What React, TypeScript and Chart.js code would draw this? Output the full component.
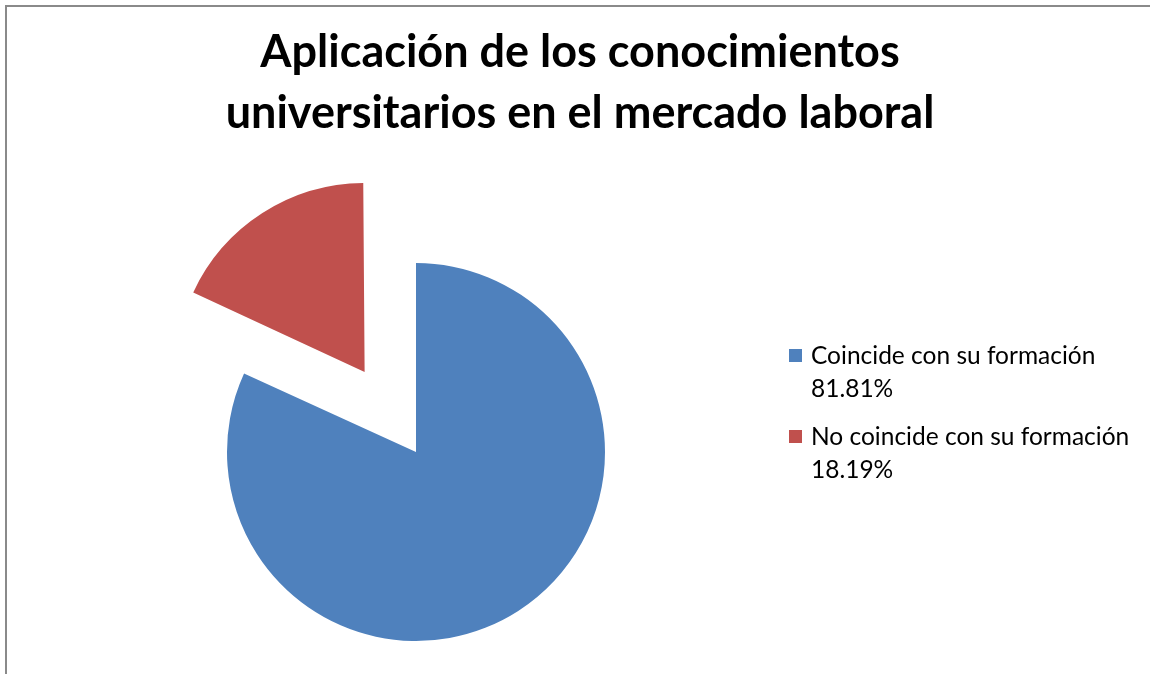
import React, { useEffect, useRef } from "react";
import { Chart, registerables } from "chart.js";

Chart.register(...registerables);

const titleLines = ["Aplicación de los conocimientos", "universitarios en el mercado laboral"];
const categories = ["Coincide con su formación", "No coincide con su formación"];
const values = [81.81, 18.19];
const valueLabels = ["81.81%", "18.19%"];
const colors = ["#4F81BD", "#C0504D"];
const explodePx = [0, 95];

const PIE_RADIUS = 189;

// keep exploded slice at the same radius as the rest (Chart.js enlarges offset arcs)
const keepRadiusPlugin = {
  id: "keepRadius",
  beforeDatasetsDraw(chart: any) {
    const meta = chart.getDatasetMeta(0);
    meta.data.forEach((arc: any) => {
      const off = (arc.options.offset || 0) / 4;
      const circ = arc.endAngle - arc.startAngle;
      const fix = 1 - Math.sin(Math.min(Math.PI, circ));
      arc.outerRadius = PIE_RADIUS - off * fix;
    });
  },
};

export default function App() {
  const ref = useRef<HTMLCanvasElement | null>(null);

  useEffect(() => {
    if (!ref.current) return;
    const chart = new Chart(ref.current, {
      type: "pie",
      data: {
        labels: categories,
        datasets: [
          {
            data: values,
            backgroundColor: colors,
            borderWidth: 0,
            offset: explodePx.map((p) => p * 4),
          },
        ],
      },
      options: {
        responsive: false,
        animation: false,
        radius: PIE_RADIUS,
        layout: { padding: { left: 0, right: 318, top: 230, bottom: 0 } },
        plugins: {
          legend: { display: false },
          title: { display: false },
          tooltip: { enabled: false },
        },
        events: [],
      },
      plugins: [keepRadiusPlugin],
    });
    return () => chart.destroy();
  }, []);

  return (
    <div
      style={{
        position: "absolute",
        left: 0,
        top: 0,
        width: 1150,
        height: 674,
        overflow: "hidden",
        background: "#fff",
        fontFamily: "Lato, 'Noto Sans', sans-serif",
      }}
    >
      <div
        style={{
          position: "absolute",
          left: 5,
          top: 5,
          width: 1200,
          height: 700,
          borderTop: "2px solid #8a8a8a",
          borderLeft: "2px solid #8a8a8a",
        }}
      />
      <canvas
        ref={ref}
        width={1150}
        height={674}
        style={{ position: "absolute", left: 0, top: 0, width: 1150, height: 674 }}
      />
      <div
        style={{
          position: "absolute",
          left: 5,
          top: 20,
          width: 1150,
          textAlign: "center",
          fontWeight: 700,
          fontSize: 45,
          lineHeight: "61px",
          color: "#000",
        }}
      >
        {titleLines.map((t, i) => (
          <div key={i} style={{ whiteSpace: "nowrap" }}>{t}</div>
        ))}
      </div>
      {categories.map((c, i) => (
        <div
          key={c}
          style={{
            position: "absolute",
            left: 789,
            top: 338 + i * 81,
            fontSize: 24.5,
            lineHeight: "33px",
            color: "#000",
          }}
        >
          <div
            style={{
              position: "absolute",
              left: 0,
              top: 11,
              width: 13,
              height: 13,
              background: colors[i],
            }}
          />
          <div style={{ marginLeft: 22, whiteSpace: "nowrap" }}>{c}</div>
          <div style={{ marginLeft: 22 }}>{valueLabels[i]}</div>
        </div>
      ))}
    </div>
  );
}
